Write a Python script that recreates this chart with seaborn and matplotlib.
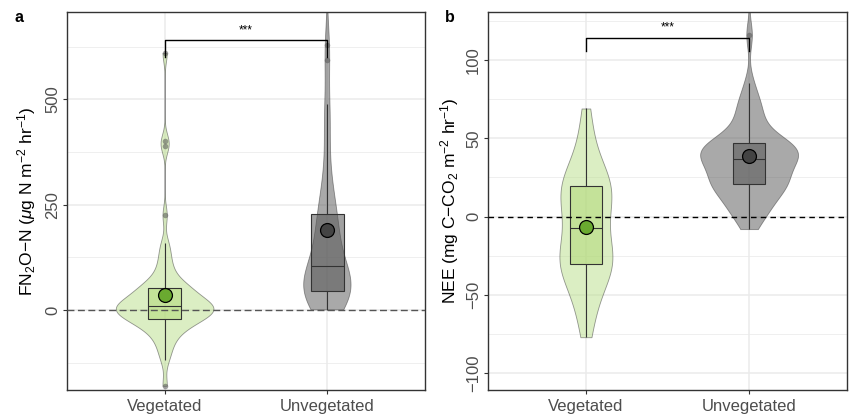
import numpy as np
import pandas as pd
import seaborn as sns
import matplotlib.pyplot as plt

GROUPS = ["Vegetated", "Unvegetated"]

n2o_vegetated = [
    -180, -119, -100, -85, -72, -62, -54, -47, -41, -36,
    -32, -28, -25, -23, -21, -19, -16, -13, -10, -7,
    -5, -3, -1, 1, 2, 4, 5, 6, 8, 9,
    11, 13, 15, 17, 20, 23, 26, 30, 34, 38,
    42, 46, 50, 53, 55, 56, 62, 70, 80, 92,
    105, 120, 140, 158, 225, 390, 400, 610,
]
n2o_unvegetated = [
    0, 20, 27, 31, 34, 36, 38, 40, 41, 42,
    45, 48, 52, 56, 60, 64, 68, 73, 80, 95,
    115, 120, 132, 145, 160, 175, 190, 205, 215, 222,
    240, 262, 290, 320, 390, 450, 488, 594, 629, 1250,
]

# panel b: NEE observations (mg C-CO2 m-2 hr-1)
nee_vegetated = [
    -77, -68, -60, -54, -48, -44, -40, -37, -34, -31,
    -30, -29, -28, -27, -26, -24, -21, -17, -13, -9,
    -5, -2, 1, 4, 7, 10, 13, 15, 17, 19,
    21, 22, 23, 25, 28, 33, 40, 48, 57, 69,
]
nee_unvegetated = [
    -8, -2, 1, 4, 6, 9, 11, 13, 15, 17,
    19, 20, 21, 22, 23, 24, 25, 26, 28, 31,
    33, 34, 35, 36, 37, 38, 39, 40, 41, 42,
    43, 44, 44, 45, 46, 47, 48, 50, 52, 56,
    60, 64, 68, 72, 76, 85, 116, 150,
]

VIOLIN_COLORS = {"Vegetated": "#b9df89", "Unvegetated": "#555555"}
BOX_COLORS = {"Vegetated": "#b2d977", "Unvegetated": "#555555"}
MEAN_COLORS = {"Vegetated": "#6aaa30", "Unvegetated": "#444444"}


def nrd0_factor(kde):
    # R's bw.nrd0 (ggplot default), expressed as a gaussian_kde factor
    x = np.asarray(kde.dataset).ravel()
    sd = x.std(ddof=1)
    q75, q25 = np.percentile(x, [75, 25])
    bw = 0.9 * min(sd, (q75 - q25) / 1.34) * len(x) ** -0.2
    return bw / sd


def draw_panel(ax, veg, unveg, ylabel, yticks, yminor, ylim, bracket, star_y,
               letter, zero_color, zero_dash, label_x):
    df = pd.DataFrame({
        "group": ["Vegetated"] * len(veg) + ["Unvegetated"] * len(unveg),
        "value": veg + unveg,
    })
    common = dict(data=df, x="group", y="value", hue="group", order=GROUPS,
                  hue_order=GROUPS, legend=False, ax=ax)

    sns.violinplot(**common, palette=VIOLIN_COLORS, saturation=1, cut=0,
                   inner=None, width=0.6, density_norm="area", common_norm=True,
                   bw_method=nrd0_factor, gridsize=400, linewidth=0.6,
                   linecolor="#333333", alpha=0.5)
    sns.boxplot(**common, palette=BOX_COLORS, saturation=1, width=0.2,
                linewidth=0.8, linecolor="#333333", showcaps=False,
                flierprops=dict(marker="o", markersize=4, markerfacecolor="#555555",
                                markeredgecolor="none", alpha=0.55))
    for p in ax.patches:
        fc = p.get_facecolor()
        p.set_facecolor((fc[0], fc[1], fc[2], 0.55))
        p.set_zorder(3)
    for ln in ax.lines:
        ln.set_zorder(3.1)

    n_before = len(ax.lines)
    sns.pointplot(**common, palette=MEAN_COLORS, estimator="mean", errorbar=None,
                  marker="o", linestyle="none", markersize=10)
    for ln in ax.lines[n_before:]:
        ln.set_markeredgecolor("black")
        ln.set_markeredgewidth(0.9)
        ln.set_zorder(6)

    ax.axhline(0, color=zero_color, lw=1.0, dashes=zero_dash, zorder=4)

    # significance bracket
    leg, top = bracket
    ax.plot([0, 0, 1, 1], [leg, top, top, leg], color="black", lw=1.0, zorder=5)
    ax.text(0.5, star_y, "***", ha="center", va="center", fontsize=8.5, zorder=5)

    ax.set_xlim(-0.6, 1.6)
    ax.set_ylim(*ylim)
    ax.set_yticks(yticks)
    ax.set_yticks(yminor, minor=True)
    ax.set_axisbelow(True)
    ax.grid(True, which="major", color="#EBEBEB", lw=1.1)
    ax.grid(True, which="minor", axis="y", color="#EBEBEB", lw=0.55)
    ax.set_xlabel("")
    ax.set_ylabel(ylabel, fontsize=12.5, color="black")
    ax.yaxis.set_label_coords(label_x, 0.5)
    ax.tick_params(axis="both", which="major", length=3, width=0.8,
                   color="#333333", labelcolor="#4D4D4D", labelsize=12)
    ax.tick_params(axis="y", which="minor", length=0)
    ax.tick_params(axis="y", labelrotation=90, pad=2)
    for lab in ax.get_yticklabels():
        lab.set_va("center")
    for s in ax.spines.values():
        s.set_color("#333333")
        s.set_linewidth(1.0)
    ax.text(letter[1], letter[2], letter[0], transform=ax.figure.transFigure,
            fontsize=11.5, fontweight="bold", va="baseline", ha="left")


plt.rcParams["font.family"] = ["Liberation Sans", "DejaVu Sans"]
plt.rcParams["mathtext.fontset"] = "custom"
plt.rcParams["mathtext.rm"] = "Liberation Sans"
plt.rcParams["mathtext.it"] = "Liberation Sans:italic"
plt.rcParams["mathtext.bf"] = "Liberation Sans:bold"

fig = plt.figure(figsize=(8.5, 4.15), dpi=100, facecolor="white")
W, H = 850, 415
ax1 = fig.add_axes([67 / W, 25 / H, 358 / W, 378 / H])
ax2 = fig.add_axes([488 / W, 25 / H, 359 / W, 378 / H])

draw_panel(ax1, n2o_vegetated, n2o_unvegetated,
           r"FN$_2$O$-$N ($\mu$g N m$^{-2}$ hr$^{-1}$)",
           [0, 250, 500], [-125, 125, 375, 625], (-190, 707),
           (600, 640), 664, ("a", 14 / W, 1 - 22 / H), "#555555", (5, 2.5), -0.081)
draw_panel(ax2, nee_vegetated, nee_unvegetated,
           r"NEE (mg C$-$CO$_2$ m$^{-2}$ hr$^{-1}$)",
           [-100, -50, 0, 50, 100], [-75, -25, 25, 75, 125], (-110.7, 130.6),
           (105.5, 114), 121, ("b", 445 / W, 1 - 22 / H), "black", (4, 3), -0.075)

fig.savefig("out.png", dpi=100)
